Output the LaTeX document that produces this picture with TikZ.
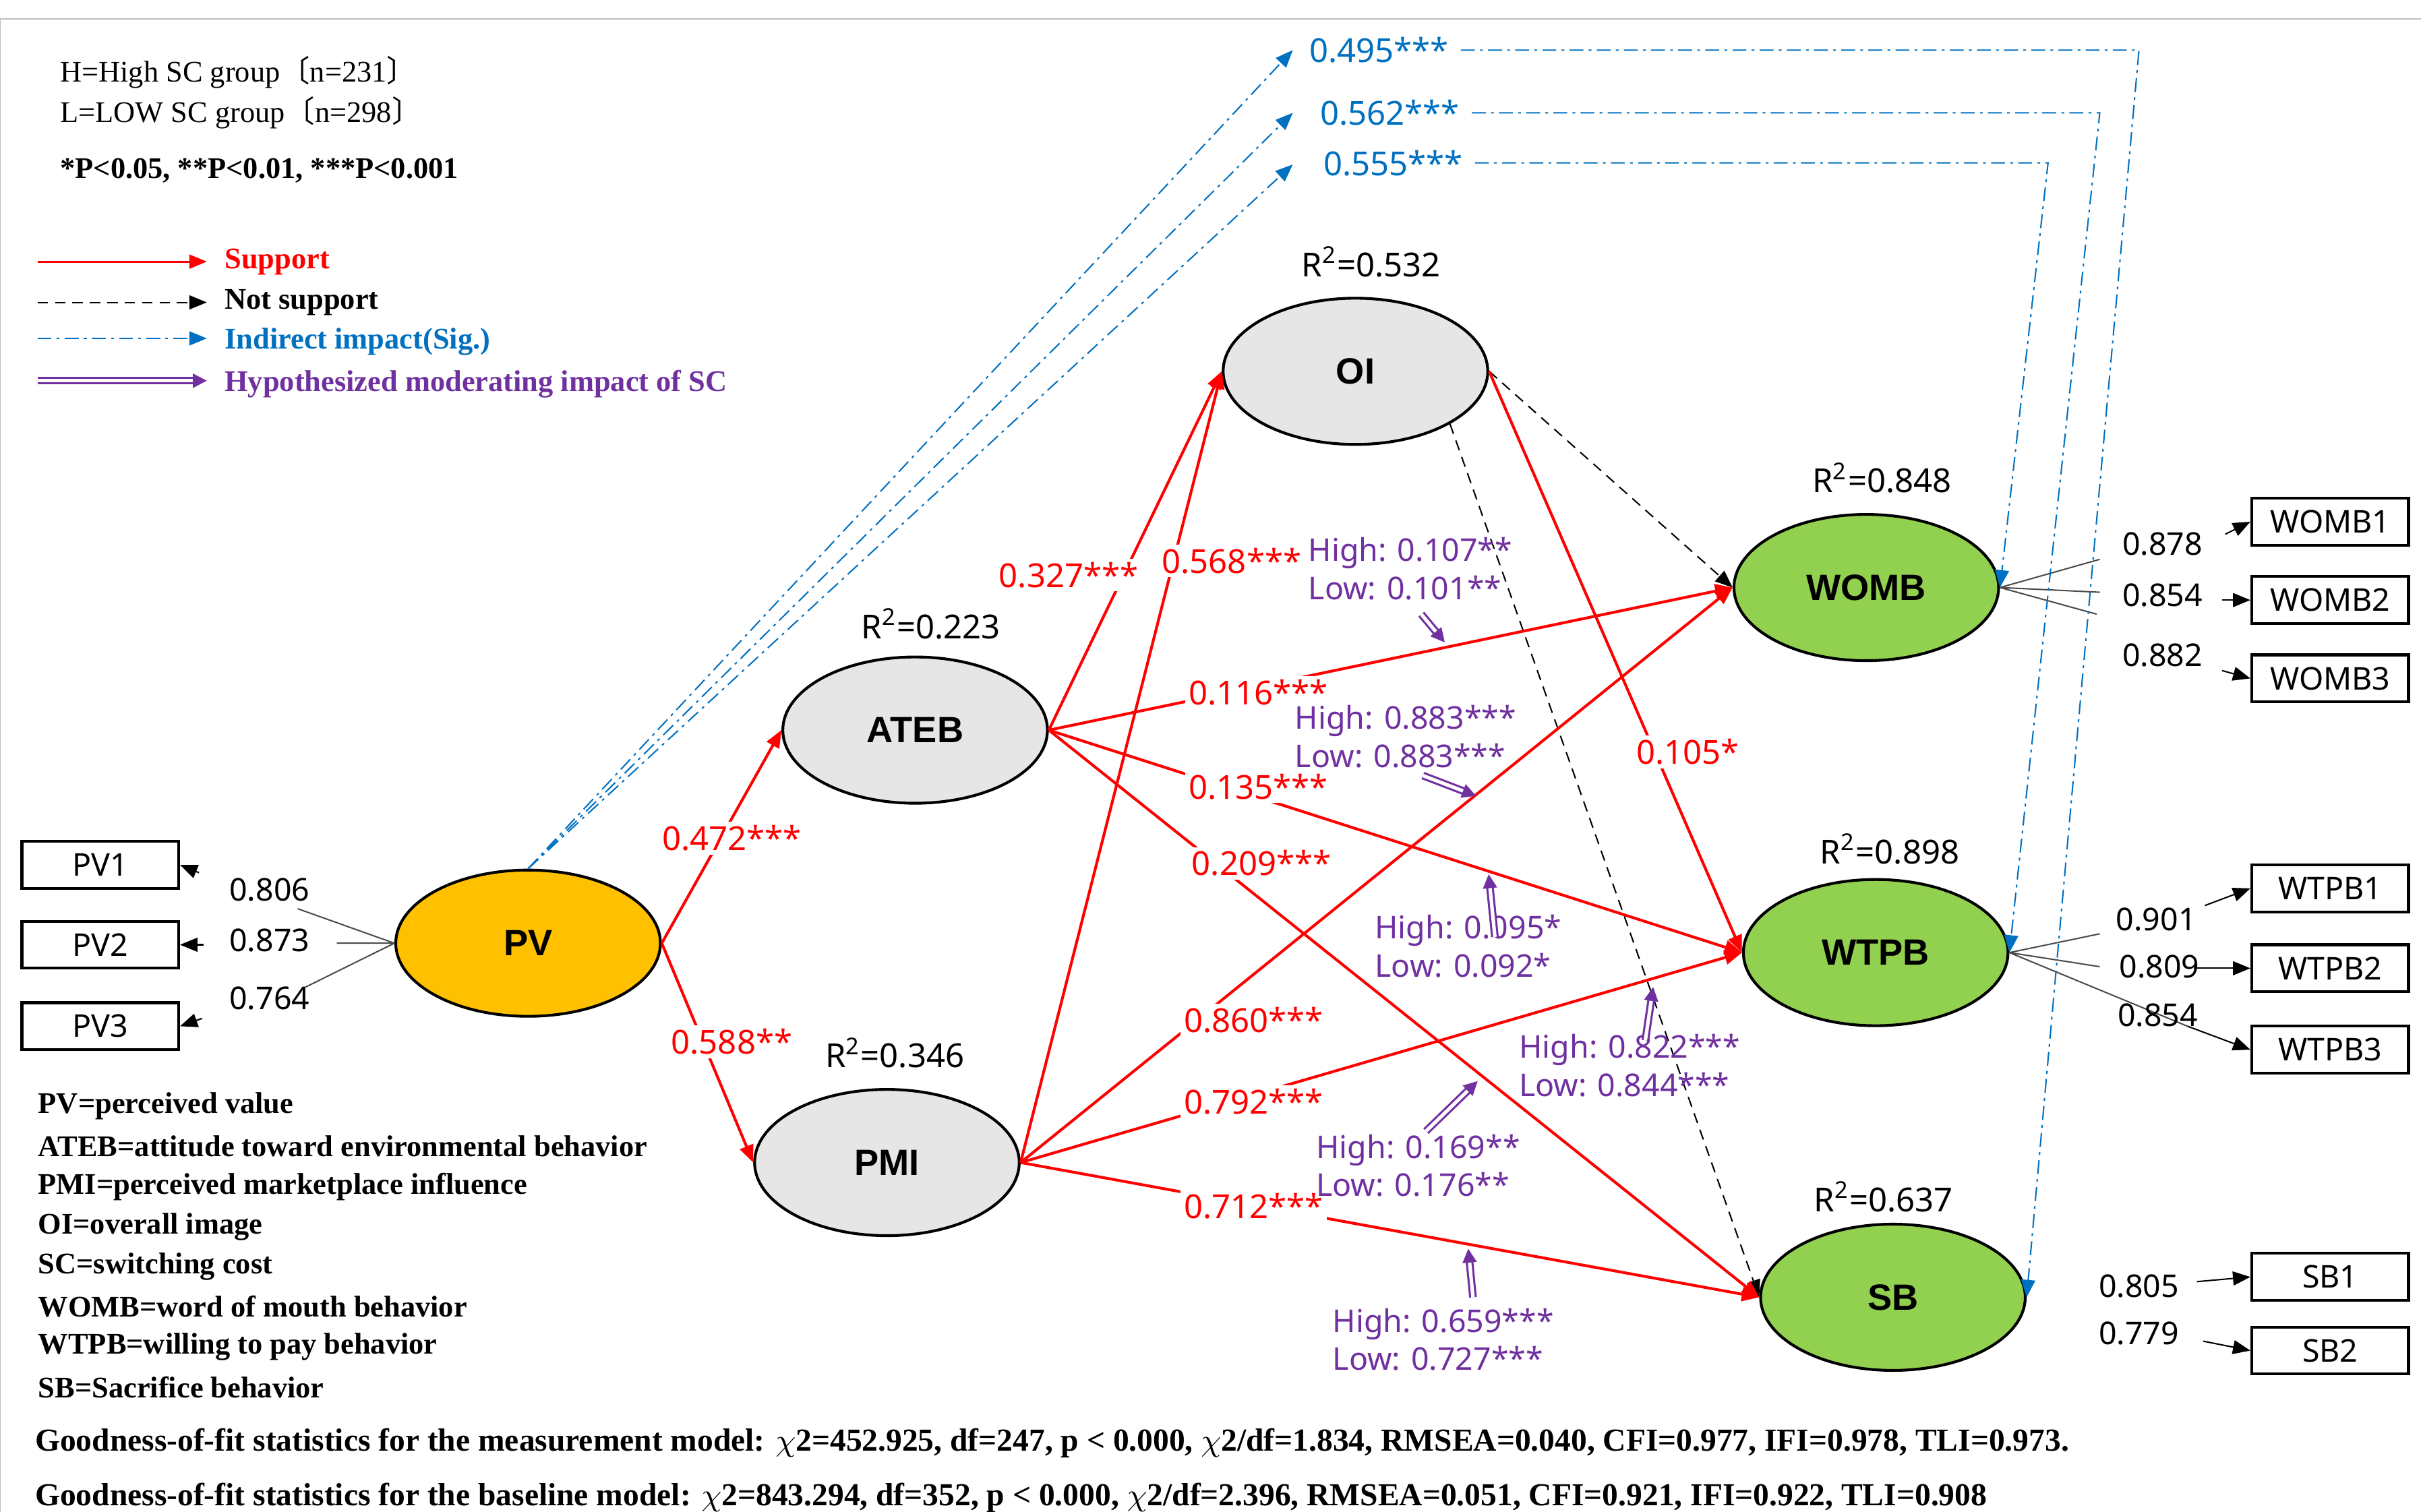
\documentclass[tikz,border=0pt]{standalone}
\usepackage{fontspec}
\setmainfont{Liberation Serif}
\newfontfamily\lblfont{Noto Sans}
\newfontfamily\latfont{Liberation Sans}
\newfontfamily\cjk{Noto Sans CJK SC}
\usetikzlibrary{shapes.geometric,arrows.meta}
\definecolor{supred}{RGB}{255,0,0}
\definecolor{indblue}{RGB}{0,112,192}
\definecolor{modpurple}{RGB}{112,48,160}
\definecolor{latgreen}{RGB}{146,208,80}
\definecolor{latorange}{RGB}{255,192,0}
\definecolor{latgray}{RGB}{230,230,230}
\tikzset{
  tip/.style={-{Triangle[length=5pt,width=4pt]}},
  lat/.style={ellipse,draw,thick,minimum width=76pt,minimum height=42pt,font=\latfont\bfseries\fontsize{10.5}{12}\selectfont},
  obs/.style={rectangle,draw,thick,minimum width=45pt,minimum height=13.5pt,inner sep=0pt,font=\lblfont\fontsize{9}{10}\selectfont},
  sup/.style={tip,draw=supred,thick},
  nsup/.style={tip,densely dashed,black},
  ind/.style={tip,indblue,dash pattern=on 4pt off 1.5pt on 0.8pt off 1.5pt},
  mod/.style={-{Triangle[length=4pt,width=4pt]},modpurple,double=white,double distance=1pt,semithick},
  path lbl/.style={fill=white,inner sep=1pt,text=supred,font=\lblfont\fontsize{9.5}{11}\selectfont},
  num/.style={font=\lblfont\fontsize{9}{10}\selectfont,inner sep=1pt},
  rsq/.style={font=\lblfont\fontsize{9.5}{11}\selectfont},
  modlbl/.style={align=left,text=modpurple,font=\lblfont\fontsize{9}{11}\selectfont,inner sep=0.5pt},
  note/.style={anchor=west,font=\bfseries\fontsize{8.6}{10}\selectfont,inner sep=0pt},
}
\begin{document}
\begin{tikzpicture}[x=0.45pt,y=-0.45pt]
\useasboundingbox (0,0) rectangle (1545,965);
\draw[gray!50] (0,965) -- (0,12) -- (1545,12);

% latent variables
\node[lat,fill=latorange] (PV) at (337,602) {PV};
\node[lat,fill=latgray] (ATEB) at (584,466) {ATEB};
\node[lat,fill=latgray] (PMI) at (566,742) {PMI};
\node[lat,fill=latgray] (OI) at (865,237) {OI};
\node[lat,fill=latgreen] (WOMB) at (1191,375) {WOMB};
\node[lat,fill=latgreen] (WTPB) at (1197,608) {WTPB};
\node[lat,fill=latgreen] (SB) at (1208,828) {SB};

\node[rsq] at (875,167) {R\textsuperscript{2}=0.532};
\node[rsq] at (594,398) {R\textsuperscript{2}=0.223};
\node[rsq] at (571,672) {R\textsuperscript{2}=0.346};
\node[rsq] at (1201,305) {R\textsuperscript{2}=0.848};
\node[rsq] at (1206,542) {R\textsuperscript{2}=0.898};
\node[rsq] at (1202,764) {R\textsuperscript{2}=0.637};

% observed variables
\node[obs] (PV1) at (64,552) {PV1};
\node[obs] (PV2) at (64,603) {PV2};
\node[obs] (PV3) at (64,655) {PV3};
\node[obs] (WOMB1) at (1487,333) {WOMB1};
\node[obs] (WOMB2) at (1487,383) {WOMB2};
\node[obs] (WOMB3) at (1487,433) {WOMB3};
\node[obs] (WTPB1) at (1487,567) {WTPB1};
\node[obs] (WTPB2) at (1487,618) {WTPB2};
\node[obs] (WTPB3) at (1487,670) {WTPB3};
\node[obs] (SB1) at (1487,815) {SB1};
\node[obs] (SB2) at (1487,862) {SB2};

% loadings
\coordinate (pva) at (190,580); \coordinate (pvb) at (215,602); \coordinate (pvc) at (195,630);
\draw[gray!60!black] (PV.west) -- (pva) (PV.west) -- (pvb) (PV.west) -- (pvc);
\node[num] at (172,568) {0.806}; \node[num] at (172,600) {0.873}; \node[num] at (172,637) {0.764};
\draw[tip] (127,557) -- (PV1.east);
\draw[tip] (130,603) -- (PV2.east);
\draw[tip] (129,650) -- (PV3.east);

\coordinate (wa) at (1340,357); \coordinate (wb) at (1340,378); \coordinate (wc) at (1338,392);
\draw[gray!60!black] (WOMB.east) -- (wa) (WOMB.east) -- (wb) (WOMB.east) -- (wc);
\node[num] at (1380,347) {0.878}; \node[num] at (1380,380) {0.854}; \node[num] at (1380,418) {0.882};
\draw[tip] (1420,341) -- (WOMB1.west);
\draw[tip] (1418,383) -- (WOMB2.west);
\draw[tip] (1418,428) -- (WOMB3.west);

\coordinate (ta) at (1340,596); \coordinate (tb) at (1340,617);
\draw[gray!60!black] (WTPB.east) -- (ta) (WTPB.east) -- (tb) (WTPB.east) -- (1396,655);
\node[num] at (1376,587) {0.901}; \node[num] at (1378,617) {0.809}; \node[num] at (1377,648) {0.854};
\draw[tip] (1407,578) -- (WTPB1.west);
\draw[tip] (1400,618) -- (WTPB2.west);
\draw[tip] (1396,655) -- (WTPB3.west);

\node[num] at (1365,821) {0.805}; \node[num] at (1365,851) {0.779};
\draw[tip] (1402,818) -- (SB1.west);
\draw[tip] (1406,856) -- (SB2.west);

% indirect effects
\coordinate (ia) at (825,32); \coordinate (ib) at (825,72); \coordinate (ic) at (825,105);
\draw[ind] (PV.north) -- (ia);
\draw[ind] (PV.north) -- (ib);
\draw[ind] (PV.north) -- (ic);
\node[text=indblue,font=\lblfont\fontsize{9.5}{11}\selectfont] (i1) at (880,32) {0.495***};
\node[text=indblue,font=\lblfont\fontsize{9.5}{11}\selectfont] (i2) at (887,72) {0.562***};
\node[text=indblue,font=\lblfont\fontsize{9.5}{11}\selectfont] (i3) at (889,104) {0.555***};
\draw[ind] (i1.east) -- (1365,32) -- (SB.east);
\draw[ind] (i2.east) -- (1340,72) -- (WTPB.east);
\draw[ind] (i3.east) -- (1307,104) -- (WOMB.east);

% structural paths
\draw[nsup] (OI.east) -- (WOMB.west);
\draw[nsup] (OI.south east) -- (SB.west);
\draw[sup] (OI.east) -- (WTPB.west);
\draw[sup] (PV.east) -- (ATEB.west);
\draw[sup] (PV.east) -- (PMI.west);
\draw[sup] (ATEB.east) -- (OI.west);
\draw[sup] (PMI.east) -- (OI.west);
\draw[sup] (ATEB.east) -- (WOMB.west);
\draw[sup] (ATEB.east) -- (WTPB.west);
\draw[sup] (ATEB.east) -- (SB.west);
\draw[sup] (PMI.east) -- (WOMB.west);
\draw[sup] (PMI.east) -- (WTPB.west);
\draw[sup] (PMI.east) -- (SB.west);

\node[path lbl] at (467,535) {0.472***};
\node[path lbl] at (467,665) {0.588**};
\node[path lbl] at (682,367) {0.327***};
\node[path lbl] at (786,358) {0.568***};
\node[path lbl] at (803,442) {0.116***};
\node[path lbl] at (803,502) {0.135***};
\node[path lbl] at (805,551) {0.209***};
\node[path lbl] at (800,651) {0.860***};
\node[path lbl] at (800,703) {0.792***};
\node[path lbl] at (800,770) {0.712***};
\node[path lbl] at (1077,480) {0.105*};

% moderation
\node[modlbl] at (900,363) {High: 0.107**\\Low: 0.101**};
\draw[mod] (907,392) -- (922,410);
\node[modlbl] at (897,470) {High: 0.883***\\Low: 0.883***};
\draw[mod] (908,495) -- (942,508);
\node[modlbl] at (937,604) {High: 0.095*\\Low: 0.092*};
\draw[mod] (954,598) -- (950,558);
\node[modlbl] at (1040,680) {High: 0.822***\\Low: 0.844***};
\draw[mod] (1050,664) -- (1055,630);
\node[modlbl] at (905,744) {High: 0.169**\\Low: 0.176**};
\draw[mod] (910,722) -- (943,690);
\node[modlbl] at (921,855) {High: 0.659***\\Low: 0.727***};
\draw[mod] (940,828) -- (937,797);

% legend
\node[note,font=\fontsize{8.6}{10}\selectfont] at (38,46) {H=High SC group{\cjk 〔}n=231{\cjk 〕}};
\node[note,font=\fontsize{8.6}{10}\selectfont] at (38,72) {L=LOW SC group{\cjk 〔}n=298{\cjk 〕}};
\node[note] at (38,109) {*P<0.05, **P<0.01, ***P<0.001};
\draw[sup,semithick] (24,167) -- (132,167);
\node[note,text=supred] at (143,167) {Support};
\draw[nsup] (24,193) -- (132,193);
\node[note] at (143,193) {Not support};
\draw[ind] (24,216) -- (132,216);
\node[note,text=indblue] at (143,218) {Indirect impact(Sig.)};
\draw[mod] (24,243) -- (132,243);
\node[note,text=modpurple] at (143,245) {Hypothesized moderating impact of SC};

\foreach \t [count=\i] in {PV=perceived value,ATEB=attitude toward environmental behavior,PMI=perceived marketplace influence,OI=overall image,SC=switching cost,WOMB=word of mouth behavior,WTPB=willing to pay behavior,SB=Sacrifice behavior}
  \node[note] at (24,{680.5+25.6*\i}) {\t};
\node[note,font=\bfseries\fontsize{9.2}{10}\selectfont] at (22,921) {Goodness-of-fit statistics for the measurement model: $\chi$2=452.925, df=247, p < 0.000, $\chi$2/df=1.834, RMSEA=0.040, CFI=0.977, IFI=0.978, TLI=0.973.};
\node[note,font=\bfseries\fontsize{9.2}{10}\selectfont] at (22,956) {Goodness-of-fit statistics for the baseline model: $\chi$2=843.294, df=352, p < 0.000, $\chi$2/df=2.396, RMSEA=0.051, CFI=0.921, IFI=0.922, TLI=0.908};
\end{tikzpicture}
\end{document}
